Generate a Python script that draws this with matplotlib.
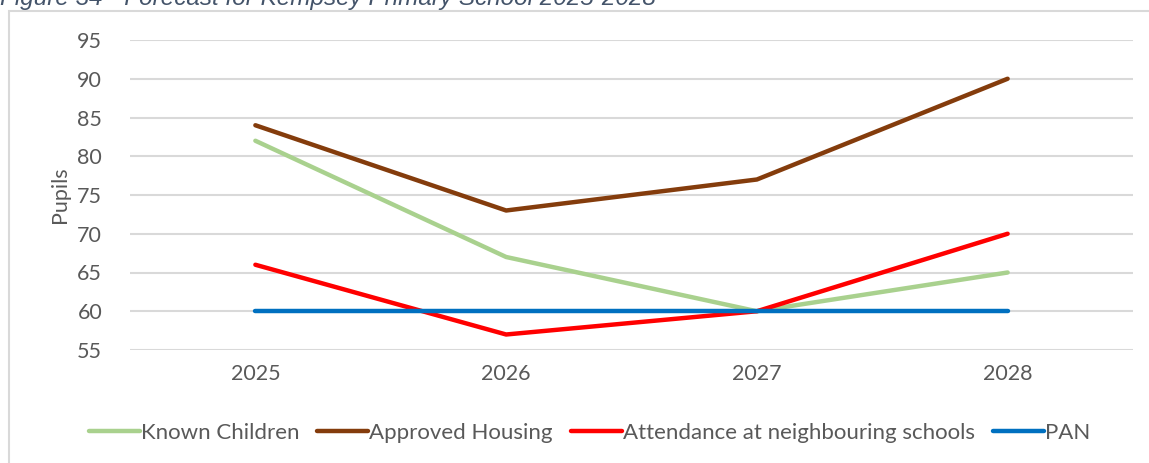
import matplotlib.pyplot as plt
from matplotlib.patches import Rectangle

plt.rcParams['font.family'] = ['Lato', 'DejaVu Sans']

years = ['2025', '2026', '2027', '2028']
known_children = [82, 67, 60, 65]
approved_housing = [84, 73, 77, 90]
attendance = [66, 57, 60, 70]
pan = [60, 60, 60, 60]

series = [
    ('Known Children', known_children, '#A9D18E'),
    ('Approved Housing', approved_housing, '#843C0C'),
    ('Attendance at neighbouring schools', attendance, '#FF0000'),
    ('PAN', pan, '#0070C0'),
]

fig = plt.figure(figsize=(11.49, 4.63), dpi=100)
ax = fig.add_axes([130 / 1149, 1 - 350 / 463, 1003 / 1149, 310 / 463])

# frame of the embedded chart, cut off on the right and bottom
fig.patches.append(Rectangle((9 / 1149, -0.1), 1.2, 1.1 - 11 / 463 + 0.001,
                             transform=fig.transFigure, fill=False,
                             edgecolor='#D9D9D9', linewidth=1.5))

# caption above the chart, cropped by the top edge as in the source
fig.text(0.0, 1 - 5 / 463, 'Figure 34 - Forecast for Kempsey Primary School 2025-2028',
         family=['Liberation Sans', 'DejaVu Sans'], style='italic', fontsize=17.5,
         color='#44546A', va='baseline', ha='left')

x = list(range(len(years)))
for name, vals, col in series:
    ax.plot(x, vals, color=col, linewidth=3.2, label=name, solid_capstyle='round')

ax.set_xlim(-0.5, 3.5)
ax.set_ylim(55, 95)
ax.set_yticks(range(55, 96, 5))
ax.set_xticks(x)
ax.set_xticklabels(years)
ax.grid(axis='y', color='#D9D9D9', linewidth=1.5)
ax.set_axisbelow(True)
for s in ax.spines.values():
    s.set_visible(False)
ax.tick_params(length=0, labelsize=15.5, colors='#595959')
ax.tick_params(axis='y', pad=20)
ax.tick_params(axis='x', pad=10)
ax.set_ylabel('Pupils', fontsize=15.5, color='#595959', labelpad=5)

leg = fig.legend(loc='center', bbox_to_anchor=(0.513, 1 - 433 / 463), ncol=4, frameon=False,
                 fontsize=16, handlelength=2.3, handletextpad=0.05, columnspacing=0.8)
for t in leg.get_texts():
    t.set_color('#595959')

fig.savefig('out.png', dpi=100)
